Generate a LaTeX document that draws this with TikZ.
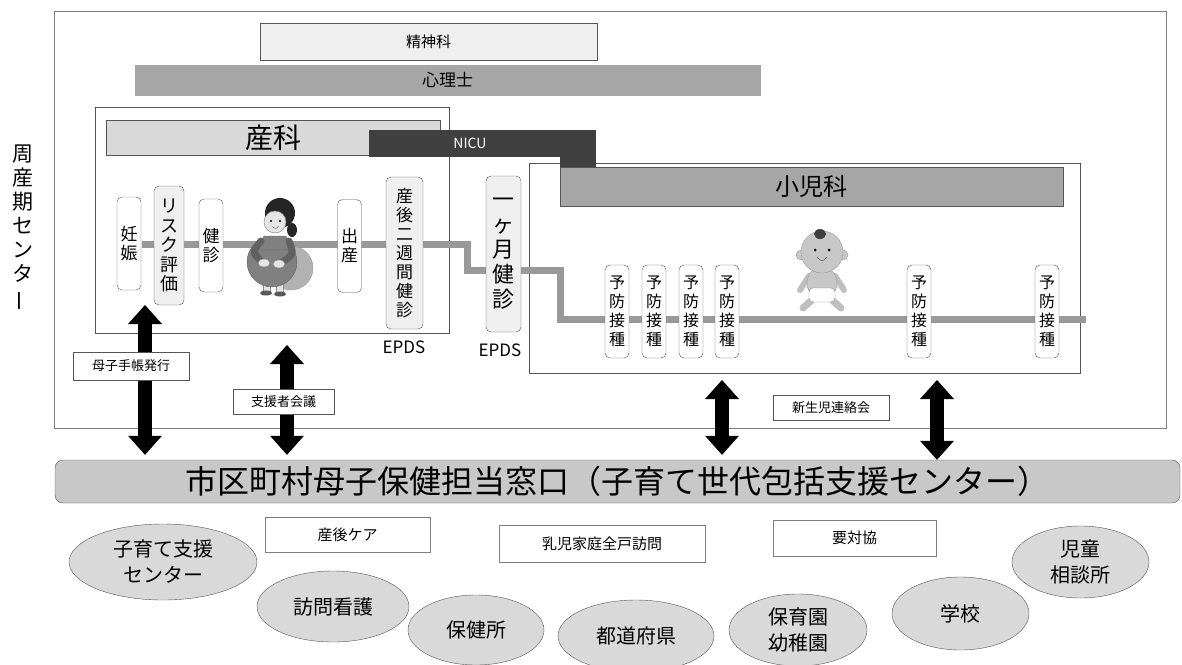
\documentclass[tikz,border=0pt]{standalone}
\usepackage{fontspec}
\setmainfont{Noto Sans CJK JP}
\usetikzlibrary{arrows.meta,shapes.geometric,calc,positioning}
\definecolor{bandgray}{HTML}{A6A6A6}
\definecolor{headgray}{HTML}{D9D9D9}
\definecolor{nicugray}{HTML}{404040}
\definecolor{linegray}{HTML}{555555}
\definecolor{pathgray}{HTML}{999999}
\definecolor{ovalgray}{HTML}{D9D9D9}
\definecolor{windowgray}{HTML}{C8C8C8}
\definecolor{palegray}{HTML}{EFEFEF}
\newcommand\fsize[2]{\fontsize{#1}{#2}\selectfont}
\tikzset{
  frame/.style={draw=linegray, line width=1pt},
  band/.style={draw=linegray, line width=0.8pt, inner sep=0pt},
  stage/.style={draw=linegray, rounded corners=5pt, fill=white, align=center,
    inner sep=2pt, minimum width=24pt, minimum height=93pt, font=\fsize{17}{19}},
  tag/.style={draw=linegray, fill=white, inner sep=2pt, font=\fsize{13}{15}},
  service/.style={draw=gray, fill=white, inner sep=0pt, font=\fsize{15}{18}},
  partner/.style={ellipse, draw=linegray, fill=ovalgray, inner sep=0pt,
    align=center, font=\fsize{20}{26}},
  link/.style={line width=14pt,
    {Triangle[width=34pt,length=19pt,line width=0pt]}-{Triangle[width=34pt,length=19pt,line width=0pt]}},
  lifeline/.style={pathgray, line width=7pt},
  skin/.style={fill=black!10, draw=black!45, line width=0.5pt}
}

\begin{document}
\begin{tikzpicture}[x=1pt, y=-1pt]
\useasboundingbox (0,0) rectangle (1182,664);

% perinatal centre
\draw[frame, draw=gray] (54,11) rectangle (1166,428);
\node[align=center, font=\fsize{21}{24}] (center) at (23,228)
{周\\産\\期\\セ\\ン\\タ\\\rotatebox[origin=c]{90}{ー}};

\node[band, fill=palegray, minimum width=337pt, minimum height=37pt,
  font=\fsize{15}{18}] (psych) at (428.5,41.5) {精神科};
\node[band, fill=bandgray, draw=bandgray, minimum width=625pt,
  minimum height=30pt, font=\fsize{17}{20}] (cp) at (447.5,80) {心理士};

% obstetrics and paediatrics
\draw[frame] (95,107) rectangle (449,333);
\node[band, fill=headgray, minimum width=334pt, minimum height=35pt,
  font=\fsize{28}{30}] (obs) at (273,137.5) {産科};
\draw[frame] (529,163) rectangle (1080,373);
\node[band, fill=bandgray, minimum width=503pt, minimum height=39pt,
  font=\fsize{24}{26}] (ped) at (811.5,186.5) {小児科};

\draw[fill=nicugray, draw=nicugray] (369,130) -- (595,130) -- (595,166)
  -- (560,166) -- (560,156) -- (369,156) -- cycle;
\node[text=white, font=\fsize{14}{16}] (nicu) at (470,143) {NICU};

% time line
\coordinate (t0) at (142,244);
\coordinate (t1) at (1086,319);
\draw[lifeline] (t0) -- (467,244) -- (467,270) -- (560,270) -- (560,319) -- (t1);

% mother on a cushion
\filldraw[fill=black!30, draw=black!40] (291,268) ellipse [x radius=22pt, y radius=22pt];
\filldraw[skin] (263,282) rectangle (270,292);
\filldraw[skin] (276,282) rectangle (283,292);
\fill[black!65] (266,293) ellipse [x radius=6pt, y radius=2.5pt];
\fill[black!65] (280,294) ellipse [x radius=6pt, y radius=2.5pt];
\filldraw[fill=black!50, draw=black!60] (272,262) ellipse [x radius=25pt, y radius=25pt];
\filldraw[fill=black!50, draw=black!60] (264,236) -- (286,236) -- (290,250) -- (258,250) -- cycle;
\draw[black!62, line width=7pt, line cap=round] (261,241) .. controls (252,252) .. (262,262);
\draw[black!62, line width=7pt, line cap=round] (289,241) .. controls (294,254) .. (281,263);
\filldraw[skin] (264,263) ellipse [x radius=6pt, y radius=4pt];
\filldraw[skin] (279,264) ellipse [x radius=6pt, y radius=4pt];
\fill[black!85] (292,230) ellipse [x radius=5pt, y radius=7pt];
\fill[black!85] (280,213) circle [radius=15pt];
\filldraw[skin] (275,222) circle [radius=11pt];
\fill[black!85] (265,217) .. controls (268,206) and (282,204) .. (289,214)
  -- (289,206) .. controls (282,199) and (268,201) .. cycle;
\fill (271,221) circle [radius=1.2pt];
\fill (280,221) circle [radius=1.2pt];
\draw[black!70] (272.5,226.5) .. controls (275.5,229) .. (278.5,226.5);

% baby
\draw[black!25, line width=6pt, line cap=round] (809,276) -- (800,290);
\draw[black!25, line width=6pt, line cap=round] (835,276) -- (844,290);
\draw[black!25, line width=7pt, line cap=round] (812,300) -- (803,308);
\draw[black!25, line width=7pt, line cap=round] (832,300) -- (841,308);
\filldraw[fill=black!22, draw=black!40] (822,283) ellipse [x radius=15pt, y radius=16pt];
\filldraw[fill=white, draw=black!45, rounded corners=4pt] (809,288) rectangle (835,302);
\filldraw[fill=black!22, draw=black!40] (801,255) circle [radius=5pt];
\filldraw[fill=black!22, draw=black!40] (843,255) circle [radius=5pt];
\filldraw[fill=black!22, draw=black!40] (822,252) circle [radius=21pt];
\fill[black!75] (820,234) ellipse [x radius=6pt, y radius=5pt];
\fill (815,250) circle [radius=1.5pt];
\fill (829,250) circle [radius=1.5pt];
\draw[black!70] (817,257) .. controls (822,262) .. (827,257);

% checkups
\node[stage] (preg) at (129,243.5) {妊\\娠};
\node[stage, fill=palegray, minimum width=30pt, minimum height=119pt,
  font=\fsize{18}{19.5}] (risk) at (169,245.5) {リ\\ス\\ク\\評\\価};
\node[stage] (chk) at (211,245.5) {健\\診};
\node[stage] (birth) at (349.5,246) {出\\産};
\node[stage, fill=palegray, minimum width=37pt, minimum height=152pt]
  (pp2w) at (404.5,253) {産\\後\\二\\週\\間\\健\\診};
\node[stage, fill=palegray, minimum width=35pt, minimum height=156pt,
  font=\fsize{22}{25}] (m1) at (503.5,254) {一\\ヶ\\月\\健\\診};
\node[font=\fsize{17}{19}] (epds1) at (404,347) {EPDS};
\node[font=\fsize{17}{19}] (epds2) at (500,350) {EPDS};
\foreach \x [count=\i] in {617,654,691,727,919,1047}
  \node[stage, font=\fsize{16}{19}] (vac\i) at (\x,311.5) {予\\防\\接\\種};

% municipal window
\node[draw=linegray, fill=windowgray, rounded corners=8pt, minimum width=1125pt,
  minimum height=43pt, font=\fsize{32}{34}] (bar) at (617.5,481.5)
{市区町村母子保健担当窓口（子育て世代包括支援センター）};

\coordinate (up1) at (145,305);
\coordinate (up2) at (287,345);
\coordinate (up3) at (722,380);
\coordinate (up4) at (937,380);
\draw[link, shorten >=5pt] (up1) -- (up1 |- bar.north);
\draw[link, shorten >=5pt] (up2) -- (up2 |- bar.north);
\draw[link, shorten >=5pt] (up3) -- (up3 |- bar.north);
\draw[link] (up4) -- (up4 |- bar.north);

\node[tag, minimum width=116pt, minimum height=28pt] (boshi) at (131,366) {母子手帳発行};
\node[tag, minimum width=101pt, minimum height=25pt] (meeting) at (283.5,402) {支援者会議};
\node[tag, minimum width=116pt, minimum height=25pt] (neonet) at (831,407.5) {新生児連絡会};

% local services
\node[service, minimum width=165pt, minimum height=35pt] (care) at (347.5,534.5) {産後ケア};
\node[service, minimum width=206pt, minimum height=37pt] (visit) at (602,543.5) {乳児家庭全戸訪問};
\node[service, minimum width=163pt, minimum height=36pt] (yotai) at (854.5,538) {要対協};

\node[partner, minimum width=188pt, minimum height=76pt] (kosodate) at (163,562) {子育て支援\\センター};
\node[partner, minimum width=152pt, minimum height=71pt] (houmon) at (333,606.5) {訪問看護};
\node[partner, minimum width=136pt, minimum height=70pt] (hokenjo) at (476,630) {保健所};
\node[partner, minimum width=156pt, minimum height=72pt] (pref) at (636,636) {都道府県};
\node[partner, minimum width=138pt, minimum height=72pt] (nursery) at (798,630) {保育園\\幼稚園};
\node[partner, minimum width=137pt, minimum height=73pt] (school) at (960.5,613.5) {学校};
\node[partner, minimum width=137pt, minimum height=72pt] (jido) at (1080.5,562) {児童\\相談所};
\end{tikzpicture}
\end{document}
